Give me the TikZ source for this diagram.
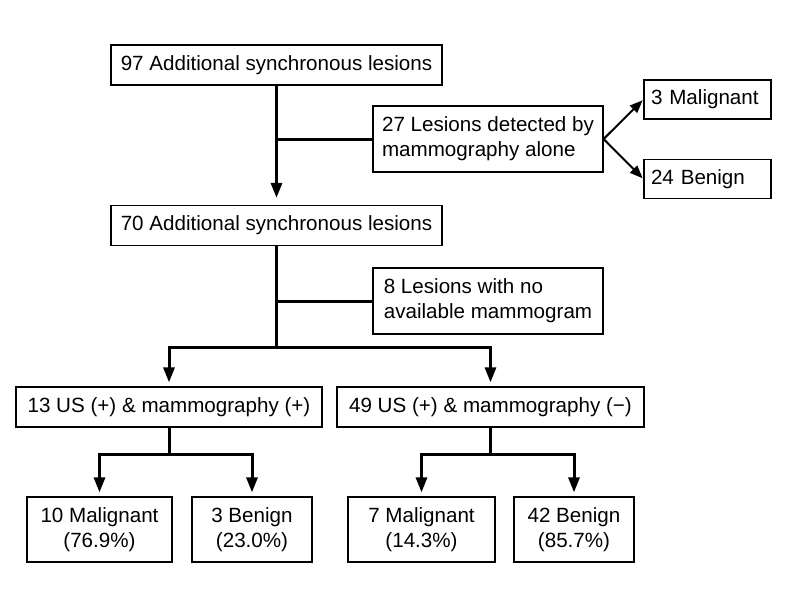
\documentclass[tikz,border=0pt]{standalone}
\usepackage{fontspec}
\setmainfont{Liberation Sans}
\usetikzlibrary{arrows.meta,positioning,calc}
\tikzset{
  box/.style={
    draw,
    line width=1.2pt,
    minimum height=40pt,
    align=center,
    inner sep=0pt,
    font=\fontsize{20.6}{25}\selectfont
  },
  note/.style={
    box,
    minimum width=230pt,
    align=left,
    minimum height=66pt
  },
  outcome/.style={
    box,
    minimum width=127pt,
    text width=113pt,
    align=left,
    inner xsep=7pt,
    minimum height=39pt
  },
  result/.style={
    box,
    minimum height=65pt
  },
  trunk/.style={line width=3pt},
  assoc/.style={trunk,-{Triangle[length=15pt,width=11pt]},shorten >=4pt},
  side/.style={line width=2pt,-{Triangle[length=13pt,width=10pt]},shorten >=1pt}
}

\begin{document}
\begin{tikzpicture}[x=1pt,y=-1pt]
  \useasboundingbox (0,0) rectangle (790,594);
  \node[box,minimum width=331pt] (n97) at (276.5,65) {97 Additional synchronous lesions};
  \node[note] (n27) at (488,139) {27 Lesions detected by\\mammography alone};
  \node[outcome] (m3) at (707.5,99.5) {3 Malignant};
  \node[outcome] (b24) at (707.5,179) {24 Benign};
  \node[box,minimum width=331pt] (n70) at (276.5,225.5) {70 Additional synchronous lesions};
  \node[note] (n8) at (488,301) {8 Lesions with no\\available mammogram};
  \node[box,minimum width=306pt] (usp) at (169,407) {13 US (+) \& mammography (+)};
  \node[box,minimum width=307pt] (usm) at (490.5,407) {49 US (+) \& mammography (−)};
  \node[result,minimum width=145pt] (m10) at (99.5,529.5) {10 Malignant\\(76.9\%)};
  \node[result,minimum width=120pt] (b3) at (252,529.5) {3 Benign\\(23.0\%)};
  \node[result,minimum width=147pt] (m7) at (421.5,529.5) {7 Malignant\\(14.3\%)};
  \node[result,minimum width=120pt] (b42) at (574,529.5) {42 Benign\\(85.7\%)};
  % first split
  \draw[assoc,shorten >=7pt] (n97.south) -- (n70.north);
  \draw[trunk] (n97.south |- n27.west) -- (n27.west);
  \draw[side] (n27.east) -- (m3.west);
  \draw[side] (n27.east) -- (b24.west);
  % second split
  \coordinate (split) at ($(n70.south)+(0,101)$);
  \draw[trunk] (n70.south) -- (split);
  \draw[trunk] (n70.south |- n8.west) -- (n8.west);
  \draw[assoc] (split) -| (usp.north);
  \draw[assoc] (split) -| (usm.north);
  % results
  \coordinate (splitp) at ($(usp.south)+(0,27)$);
  \coordinate (splitm) at ($(usm.south)+(0,27)$);
  \draw[trunk] (usp.south) -- (splitp);
  \draw[assoc] (splitp) -| (m10.north);
  \draw[assoc] (splitp) -| (b3.north);
  \draw[trunk] (usm.south) -- (splitm);
  \draw[assoc] (splitm) -| (m7.north);
  \draw[assoc] (splitm) -| (b42.north);
\end{tikzpicture}
\end{document}
